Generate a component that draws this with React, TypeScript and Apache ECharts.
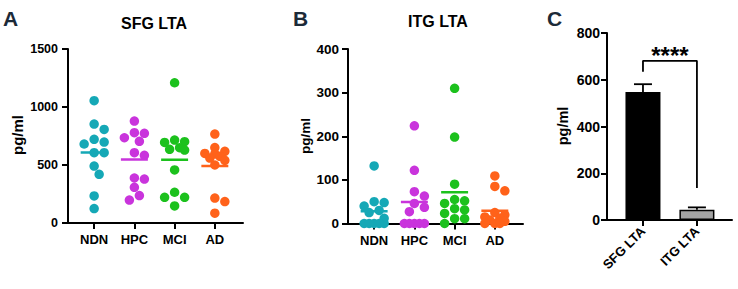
import React, { useEffect, useRef } from "react";
import * as echarts from "echarts";

const groups = ["NDN", "HPC", "MCI", "AD"];
const groupColors = ["#15a8b6", "#c934dc", "#1cc11d", "#ff621a"];

// Panel A: SFG LTA (pg/ml)
const sfgNDN = [1054, 853, 807, 721, 698, 681, 606, 606, 491, 420, 233, 124];
const sfgHPC = [879, 779, 773, 735, 704, 606, 583, 388, 379, 308, 236, 198];
const sfgMCI = [1209, 715, 701, 695, 649, 635, 629, 457, 265, 221, 221, 147];
const sfgAD = [767, 650, 618, 600, 595, 575, 560, 540, 500, 215, 185, 85];

// Panel B: ITG LTA (pg/ml)
const itgNDN = [132, 50, 48, 40, 30, 25, 12, 0, 0, 0, 0, 0];
const itgHPC = [224, 122, 73, 63, 46, 37, 27, 0, 0, 0, 0, 0];
const itgMCI = [310, 198, 90, 55, 52, 46, 34, 31, 23, 11, 11, 0];
const itgAD = [109, 85, 75, 25, 20, 15, 12, 8, 5, 0, 0, 0];

// Panel C
const barCats = ["SFG LTA", "ITG LTA"];
const barMeans = [548, 44];
const barSEM = [33, 10];
const sigLabel = "****";
const bracketPts = [
  [1, 634],
  [1, 681],
  [2, 681],
  [2, 137],
];

const FONT = '"Liberation Sans", Arial, Helvetica, sans-serif';

const sfgGroups = [sfgNDN, sfgHPC, sfgMCI, sfgAD];
const itgGroups = [itgNDN, itgHPC, itgMCI, itgAD];

// pixel geometry of grids
const GA = { left: 68, top: 49, width: 175, height: 174 };
const GB = { left: 348, top: 49, width: 175, height: 174.5 };
const GC = { left: 607, top: 33, width: 125, height: 187 };
const XMIN = 0.35;
const XMAX = 4.7;

const DOT = 9.5;

function mean(a: number[]) {
  return a.reduce((s, v) => s + v, 0) / a.length;
}

// simple beeswarm layout in pixel space
function swarm(vals: number[], center: number, pxX: number, pxY: number) {
  const sorted = [...vals].sort((a, b) => b - a);
  const placed: { dx: number; py: number; v: number }[] = [];
  const cands = [0, 5, -5, 10, -10];
  for (const v of sorted) {
    const py = v * pxY;
    let best = 0;
    let bestD = -1;
    let chosen: number | null = null;
    for (const c of cands) {
      let md = Infinity;
      for (const p of placed) {
        const d = Math.hypot(p.dx - c, p.py - py);
        if (d < md) md = d;
      }
      if (md >= DOT - 0.5) {
        chosen = c;
        break;
      }
      if (md > bestD) {
        bestD = md;
        best = c;
      }
    }
    const dx = chosen === null ? best : chosen;
    placed.push({ dx, py, v });
  }
  return placed.map((p) => [center + p.dx / pxX, p.v]);
}

export default function App() {
  const ref = useRef<HTMLDivElement>(null);
  useEffect(() => {
    if (!ref.current) return;
    const chart = echarts.init(ref.current, undefined, { renderer: "svg" });

    const pxX = GA.width / (XMAX - XMIN);
    const axisBase = {
      axisLine: { show: true, lineStyle: { color: "#000", width: 2 } },
      axisTick: { show: true, length: 6, lineStyle: { color: "#000", width: 2 } },
      splitLine: { show: false },
    };
    const catX = (gi: number) => ({
      type: "value",
      gridIndex: gi,
      min: XMIN,
      max: XMAX,
      ...axisBase,
      axisTick: { ...axisBase.axisTick, customValues: [1, 2, 3, 4] },
      axisLabel: {
        customValues: [1, 2, 3, 4],
        formatter: (v: number) => groups[Math.round(v) - 1] ?? "",
        color: "#000",
        fontWeight: "bold",
        fontSize: 13,
        fontFamily: FONT,
        margin: 10,
      },
    });

    const series: any[] = [];
    const addPanel = (data: number[][], gi: number, pxY: number) => {
      data.forEach((vals, i) => {
        series.push({
          type: "scatter",
          xAxisIndex: gi,
          yAxisIndex: gi,
          symbolSize: DOT,
          itemStyle: { color: groupColors[i], opacity: 1 },
          data: swarm(vals, i + 1, pxX, pxY),
          z: 2,
        });
        const m = mean(vals);
        series.push({
          type: "line",
          xAxisIndex: gi,
          yAxisIndex: gi,
          symbol: "none",
          lineStyle: { color: groupColors[i], width: 2.5 },
          data: [
            [i + 1 - 0.335, m],
            [i + 1 + 0.335, m],
          ],
          z: 3,
        });
      });
    };
    addPanel(sfgGroups, 0, GA.height / 1500);
    addPanel(itgGroups, 1, GB.height / 400);

    series.push({
      type: "bar",
      xAxisIndex: 2,
      yAxisIndex: 2,
      barWidth: 35,
      data: barMeans.map((m, i) => ({
        value: [i + 1, m],
        itemStyle: {
          color: i === 0 ? "#000" : "#a3a3a3",
          borderColor: "#000",
          borderWidth: 1.5,
        },
      })),
      z: 2,
    });
    series.push({
      type: "custom",
      xAxisIndex: 2,
      yAxisIndex: 2,
      data: barMeans.map((m, i) => [i + 1, m, m + barSEM[i]]),
      renderItem: (_p: any, api: any) => {
        const x = api.value(0);
        const a = api.coord([x, api.value(1)]);
        const b = api.coord([x, api.value(2)]);
        return {
          type: "group",
          children: [
            { type: "line", shape: { x1: a[0], y1: a[1], x2: b[0], y2: b[1] }, style: { stroke: "#000", lineWidth: 1.8 } },
            { type: "line", shape: { x1: b[0] - 9, y1: b[1], x2: b[0] + 9, y2: b[1] }, style: { stroke: "#000", lineWidth: 1.8 } },
          ],
        };
      },
      z: 4,
    });
    series.push({
      type: "line",
      xAxisIndex: 2,
      yAxisIndex: 2,
      symbol: "none",
      lineStyle: { color: "#000", width: 1.8 },
      data: bracketPts,
      z: 4,
    });
    series.push({
      type: "custom",
      xAxisIndex: 2,
      yAxisIndex: 2,
      data: [[(bracketPts[1][0] + bracketPts[2][0]) / 2, bracketPts[1][1]]],
      renderItem: (_p: any, api: any) => {
        const c = api.coord([api.value(0), api.value(1)]);
        return {
          type: "text",
          x: c[0],
          y: c[1] + 7,
          style: {
            text: sigLabel,
            font: `bold 24px ${FONT}`,
            fill: "#000",
            align: "center",
            verticalAlign: "bottom",
          },
        };
      },
      z: 5,
    });

    const yLab = (size: number, margin: number) => ({
      color: "#000",
      fontWeight: "bold",
      fontSize: size,
      fontFamily: FONT,
      margin,
      formatter: (v: number) => String(v),
    });

    const option: any = {
      animation: false,
      backgroundColor: "#fff",
      grid: [
        { ...GA, containLabel: false },
        { ...GB, containLabel: false },
        { ...GC, containLabel: false },
      ],
      xAxis: [
        catX(0),
        catX(1),
        {
          type: "value",
          gridIndex: 2,
          min: 1 / 3,
          max: 2.65,
          ...axisBase,
          axisTick: { ...axisBase.axisTick, customValues: [1, 2] },
          axisLabel: {
            customValues: [1, 2],
            formatter: (v: number) => barCats[Math.round(v) - 1] ?? "",
            rotate: 45,
            color: "#000",
            fontWeight: "bold",
            fontSize: 13,
            fontFamily: FONT,
            margin: 9,
          },
        },
      ],
      yAxis: [
        { type: "value", gridIndex: 0, min: 0, max: 1500, interval: 500, ...axisBase, axisLabel: yLab(12.5, 10) },
        { type: "value", gridIndex: 1, min: 0, max: 400, interval: 100, ...axisBase, axisLabel: yLab(13.5, 9) },
        { type: "value", gridIndex: 2, min: 0, max: 800, interval: 200, ...axisBase, axisLabel: yLab(14, 7) },
      ],
      graphic: [
        { type: "text", x: 3, y: 18, style: { text: "A", font: `bold 21px ${FONT}`, fill: "#1c2a38", align: "left", verticalAlign: "middle" } },
        { type: "text", x: 293, y: 18, style: { text: "B", font: `bold 21px ${FONT}`, fill: "#1c2a38", align: "left", verticalAlign: "middle" } },
        { type: "text", x: 547, y: 18.5, style: { text: "C", font: `bold 21px ${FONT}`, fill: "#1c2a38", align: "left", verticalAlign: "middle" } },
        { type: "text", x: 154, y: 23, style: { text: "SFG LTA", font: `bold 16px ${FONT}`, fill: "#000", align: "center", verticalAlign: "middle" } },
        { type: "text", x: 438, y: 21, style: { text: "ITG LTA", font: `bold 16px ${FONT}`, fill: "#000", align: "center", verticalAlign: "middle" } },
        { type: "text", x: 17, y: 135, rotation: Math.PI / 2, style: { text: "pg/ml", font: `bold 15px ${FONT}`, fill: "#000", align: "center", verticalAlign: "middle" } },
        { type: "text", x: 305, y: 136, rotation: Math.PI / 2, style: { text: "pg/ml", font: `bold 13.5px ${FONT}`, fill: "#000", align: "center", verticalAlign: "middle" } },
        { type: "text", x: 563, y: 126, rotation: Math.PI / 2, style: { text: "pg/ml", font: `bold 14.5px ${FONT}`, fill: "#000", align: "center", verticalAlign: "middle" } },
      ],
      series,
    };
    chart.setOption(option);
    return () => chart.dispose();
  }, []);
  return (
    <div
      ref={ref}
      style={{ position: "absolute", left: 0, top: 0, width: 738, height: 289, background: "#fff" }}
    />
  );
}
